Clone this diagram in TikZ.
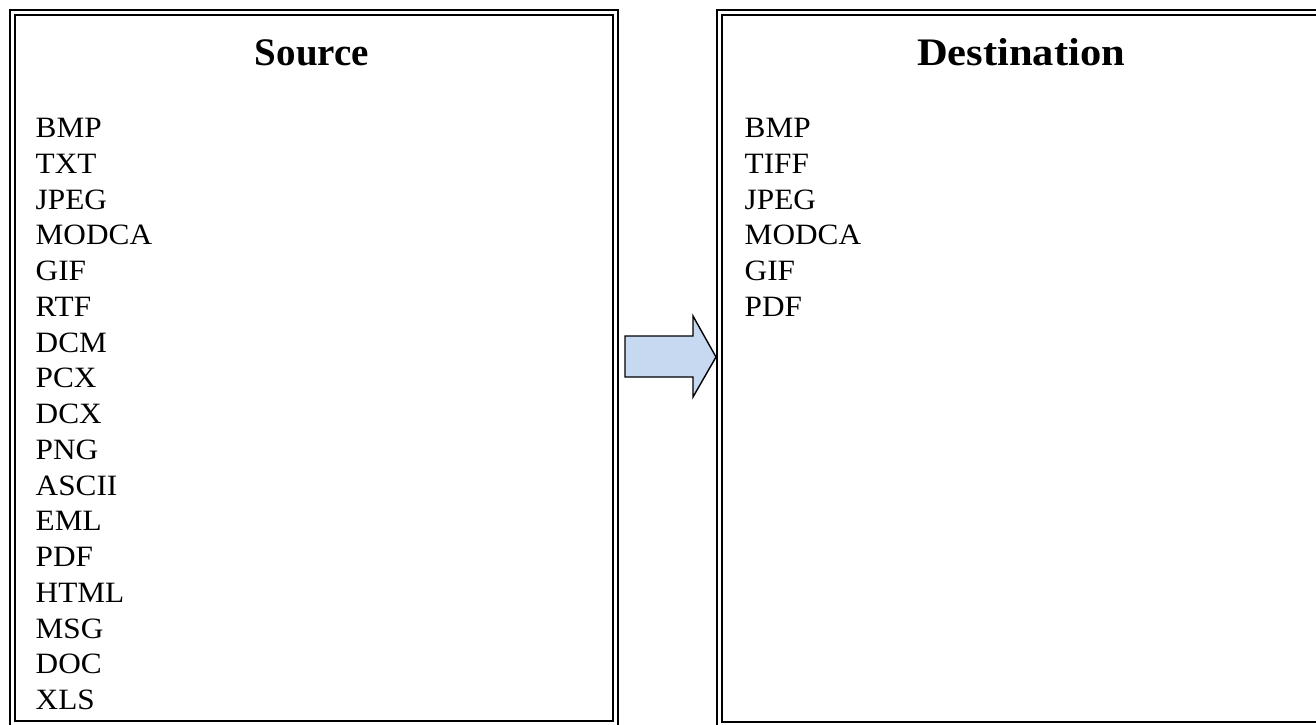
\documentclass[tikz,border=0pt]{standalone}
\usepackage{fontspec}
\setmainfont{Liberation Serif}
\newfontfamily\itemfont[FakeStretch=1.06]{Liberation Serif}
\definecolor{arrowfill}{HTML}{C6D9F1}
\tikzset{
  panel/.style={draw=black, double=white, double distance=2.8pt, line width=2.4pt, inner sep=0pt, fill=none},
  title/.style={font=\fontsize{39}{44}\selectfont\bfseries, anchor=base, inner sep=0pt},
  item/.style={font=\itemfont\fontsize{29.5}{34}\selectfont, anchor=base west, inner sep=0pt},
  bigarrow/.style={draw=black, line width=1.4pt, fill=arrowfill, line join=miter}
}
\begin{document}
\begin{tikzpicture}[x=1pt,y=-1pt]
\useasboundingbox (0,0) rectangle (1316,724);
\clip (0,0) rectangle (1316,724);
% panels
\path[panel] (12.3,12.3) rectangle (615.5,723.8);
\path[panel] (719.5,12.3) rectangle (1330,724.6);
\node (srcbox) at (314,367) {};
\node (dstbox) at (1022,367) {};
% titles
\node[title] (srctitle) at (312,65) {Source};
\node[title] (dsttitle) at (1021,65) {\scalebox{1.09}[1]{Destination}};
% source items
\foreach \t [count=\i from 0] in {BMP,TXT,JPEG,MODCA,GIF,RTF,DCM,PCX,DCX,PNG,ASCII,EML,PDF,HTML,MSG,DOC,XLS}{
  \node[item] (s\i) at (35.5,137.5+35.75*\i) {\t};
}
% destination items
\foreach \t [count=\i from 0] in {BMP,TIFF,JPEG,MODCA,GIF,PDF}{
  \node[item] (d\i) at (744.5,137.5+35.75*\i) {\t};
}
% arrow
\coordinate (atip) at (716,357);
\draw[bigarrow] (625,336) -- (693,336) -- (693,316) -- (atip) -- (693,397) -- (693,377) -- (625,377) -- cycle;
\end{tikzpicture}
\end{document}
